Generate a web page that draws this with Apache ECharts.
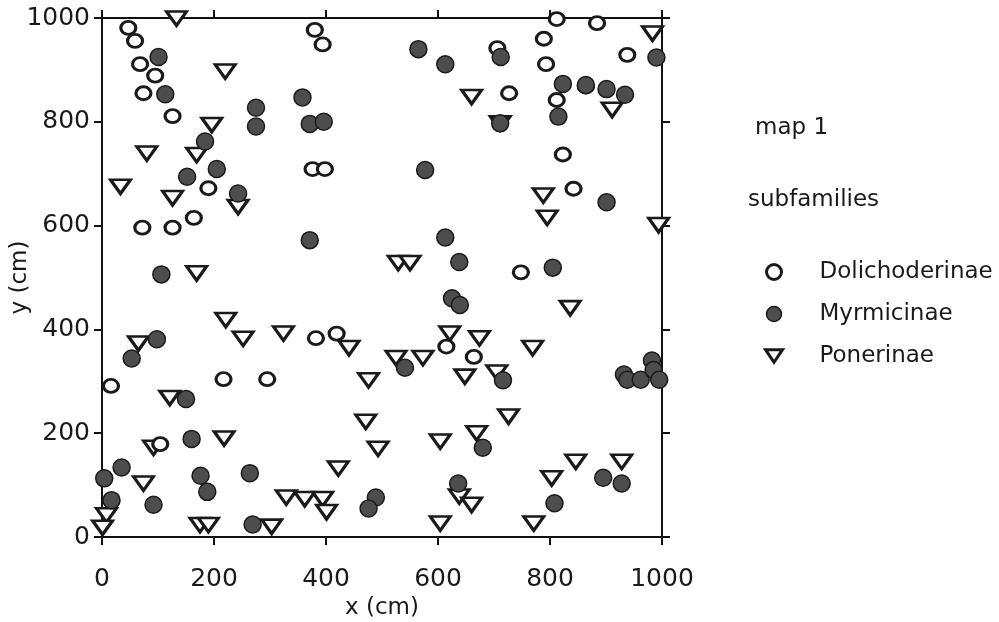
<!DOCTYPE html>
<html>
<head>
<meta charset="utf-8">
<script src="https://cdn.jsdelivr.net/npm/echarts@6/dist/echarts.min.js"></script>
<style>html,body{margin:0;padding:0;background:#fff}#c{width:999px;height:622px}</style>
</head>
<body>
<div id="c"></div>
<script>
var xTicks = [0, 200, 400, 600, 800, 1000];
var yTicks = [0, 200, 400, 600, 800, 1000];
var dolichoderinae = [[47,981],[59,956],[68,911],[95,889],[74,855],[126,811],[380,977],[394,949],[376,709],[398,709],[812,998],[884,990],[789,960],[706,942],[938,929],[793,911],[864,868],[727,855],[812,842],[823,737],[190,672],[72,596],[126,596],[164,615],[842,671],[748,510],[16,291],[217,304],[295,304],[104,179],[382,383],[419,392],[615,367],[664,347]];
var myrmicinae = [[101,925],[113,853],[275,827],[275,791],[184,762],[205,709],[152,694],[565,940],[613,911],[358,847],[371,796],[396,800],[577,707],[712,925],[990,924],[823,873],[864,871],[901,863],[934,852],[815,810],[711,797],[243,662],[106,506],[371,572],[613,577],[638,530],[625,460],[639,447],[901,645],[805,519],[932,313],[938,303],[962,303],[982,340],[985,322],[995,303],[53,344],[150,266],[160,189],[35,134],[4,113],[176,118],[188,87],[264,123],[17,71],[92,62],[269,24],[541,326],[489,76],[476,55],[636,103],[716,302],[680,172],[895,114],[928,103],[808,65],[98,381]];
var ponerinae = [[133,999],[220,897],[196,794],[169,736],[80,739],[33,675],[983,970],[660,848],[911,823],[711,797],[126,653],[243,636],[169,508],[221,418],[252,382],[324,392],[65,373],[529,528],[550,528],[441,364],[621,392],[525,345],[573,345],[788,658],[795,615],[994,601],[836,441],[674,383],[769,364],[121,268],[92,172],[218,190],[74,103],[8,42],[1,18],[175,23],[190,23],[303,20],[476,302],[648,309],[471,222],[493,170],[604,184],[422,132],[638,78],[329,76],[362,73],[394,73],[401,48],[604,26],[705,317],[726,232],[669,200],[660,62],[803,113],[846,145],[928,145],[771,26]];
var seriesNames = ['Dolichoderinae', 'Myrmicinae', 'Ponerinae'];

var FONT = 'DejaVu Sans';
var INK = '#1a1a1a';
var lineStyle = {color: '#111', width: 2};
var DOWN_TRI = 'path://M0,0 L20,0 L10,15 Z';

function axisBase(pos, showLabels, margin, ticks) {
  return {
    type: 'value', min: ticks[0], max: ticks[ticks.length - 1], interval: ticks[1] - ticks[0],
    position: pos,
    axisLine: {show: true, onZero: false, lineStyle: lineStyle},
    axisTick: {show: true, inside: false, length: 8, lineStyle: lineStyle},
    axisLabel: {show: showLabels, fontSize: 25, fontFamily: FONT, color: INK, margin: margin,
                formatter: function (v) { return String(v); }},
    splitLine: {show: false}
  };
}

var xMain = axisBase('bottom', true, 30, xTicks);
xMain.name = 'x (cm)'; xMain.nameLocation = 'middle'; xMain.nameGap = 60; xMain.nameMoveOverlap = false;
xMain.nameTextStyle = {fontSize: 23, fontFamily: FONT, color: INK};
var xTop = axisBase('top', false, 8, xTicks);
var yMain = axisBase('left', true, 12, yTicks);
yMain.name = 'y (cm)'; yMain.nameLocation = 'middle'; yMain.nameGap = 70; yMain.nameMoveOverlap = false;
yMain.nameTextStyle = {fontSize: 23, fontFamily: FONT, color: INK};
var yRight = axisBase('right', false, 8, yTicks);

var chart = echarts.init(document.getElementById('c'), null, {renderer: 'canvas'});
chart.setOption({
  backgroundColor: '#fff',
  animation: false,
  title: [
    {text: 'map 1', left: 750, top: 112, padding: 5, textStyle: {fontSize: 23, fontWeight: 'normal', fontFamily: FONT, color: INK}},
    {text: 'subfamilies', left: 743, top: 184, padding: 5, textStyle: {fontSize: 23, fontWeight: 'normal', fontFamily: FONT, color: INK}}
  ],
  legend: {
    data: [
      {name: seriesNames[0], icon: 'circle', itemStyle: {color: '#fff', borderColor: '#1a1a1a', borderWidth: 3}},
      {name: seriesNames[1], icon: 'circle', itemStyle: {color: '#4d4d4d', borderColor: '#1a1a1a', borderWidth: 1.5}},
      {name: seriesNames[2], icon: DOWN_TRI, itemStyle: {color: '#fff', borderColor: '#1a1a1a', borderWidth: 3}}
    ],
    orient: 'vertical', left: 764, top: 260, padding: 0,
    itemWidth: 17, itemHeight: 15, itemGap: 18,
    selectedMode: false,
    textStyle: {fontSize: 23, lineHeight: 24, fontFamily: FONT, color: INK, padding: [0, 0, 0, 32]}
  },
  grid: {left: 102, right: 337, top: 18, bottom: 85, containLabel: false, outerBoundsMode: 'none'},
  xAxis: [xMain, xTop],
  yAxis: [yMain, yRight],
  series: [
    {name: seriesNames[0], type: 'scatter', data: dolichoderinae, z: 3, clip: false,
     symbol: 'circle', symbolSize: [15, 13],
     itemStyle: {color: '#fff', borderColor: '#1a1a1a', borderWidth: 3, opacity: 1}},
    {name: seriesNames[1], type: 'scatter', data: myrmicinae, z: 4, clip: false,
     symbol: 'circle', symbolSize: 17,
     itemStyle: {color: '#4d4d4d', borderColor: '#1a1a1a', borderWidth: 1.5, opacity: 1}},
    {name: seriesNames[2], type: 'scatter', data: ponerinae, z: 2, clip: false,
     symbol: 'triangle', symbolRotate: 180, symbolSize: [20, 14],
     itemStyle: {color: '#fff', borderColor: '#1a1a1a', borderWidth: 3, opacity: 1}}
  ]
});
</script>
</body>
</html>
